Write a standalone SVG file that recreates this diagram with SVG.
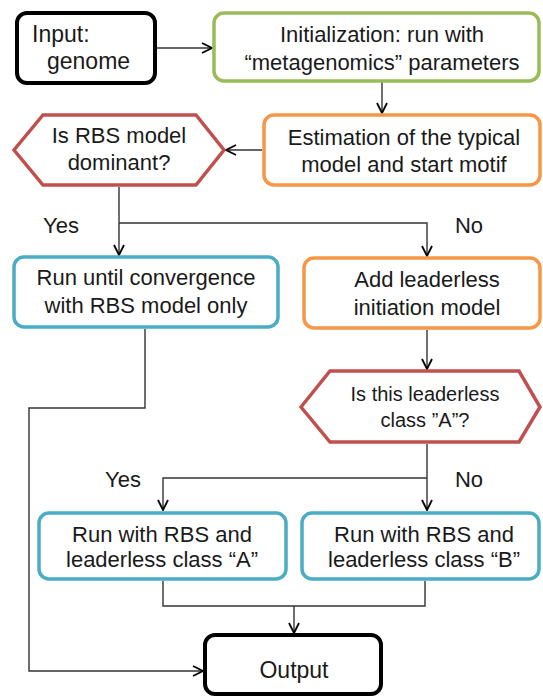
<svg xmlns="http://www.w3.org/2000/svg" width="543" height="698" viewBox="0 0 543 698">
<style>
.box{fill:#fff;stroke-width:3.5}
.blk{stroke:#000;stroke-width:4}
.grn{stroke:#9BBB59}
.org{stroke:#F79646}
.red{stroke:#C0504D}
.blu{stroke:#4BACC6}
text{font-family:"Liberation Sans",Arial,sans-serif;font-size:22px;fill:#1a1a1a}
.c{text-anchor:middle}
.sm{font-size:20px}
.lg{font-size:23px}
.conn{fill:none;stroke:#333;stroke-width:1.4}
</style>
<defs>
<marker id="ah" viewBox="0 0 12 12" refX="11" refY="6" markerWidth="12" markerHeight="12" markerUnits="userSpaceOnUse" orient="auto">
<path d="M1,1 L11,6 L1,11" fill="none" stroke="#000" stroke-width="1.8"/>
</marker>
</defs>
<rect width="543" height="698" fill="#fff"/>
<g id="connectors">
<path class="conn" d="M157,48 H212" marker-end="url(#ah)"/>
<path class="conn" d="M382,82 V113" marker-end="url(#ah)"/>
<path class="conn" d="M262,150 H226" marker-end="url(#ah)"/>
<path class="conn" d="M119,187 V255" marker-end="url(#ah)"/>
<path class="conn" d="M119,223 H427 V256" marker-end="url(#ah)"/>
<path class="conn" d="M145,329 V408 H29 V671 H203" marker-end="url(#ah)"/>
<path class="conn" d="M427,330 V369" marker-end="url(#ah)"/>
<path class="conn" d="M427,444 V510" marker-end="url(#ah)"/>
<path class="conn" d="M427,478 H163 V510" marker-end="url(#ah)"/>
<path class="conn" d="M163,581 V606 H425 V581"/>
<path class="conn" d="M294,606 V633" marker-end="url(#ah)"/>
</g>
<g id="labels">
<text x="61" y="233" class="c">Yes</text>
<text x="469" y="233" class="c">No</text>
<text x="123" y="487" class="c">Yes</text>
<text x="469" y="487" class="c">No</text>
</g>
<g id="input">
<rect class="box blk" x="17" y="13" width="138" height="70" rx="10"/>
<text x="32" y="42" class="lg">Input:</text>
<text x="47" y="69" class="lg">genome</text>
</g>
<g id="init">
<rect class="box grn" x="214" y="13" width="325" height="68" rx="10"/>
<text x="382" y="42" class="c">Initialization: run with</text>
<text x="382" y="70" class="c">“metagenomics” parameters</text>
</g>
<g id="estimation">
<rect class="box org" x="264" y="115" width="276" height="70" rx="10"/>
<text x="404" y="145" class="c">Estimation of the typical</text>
<text x="404" y="172" class="c">model and start motif</text>
</g>
<g id="rbs-dominant">
<polygon class="box red" points="14,150 43,115 196,115 224,150 196,185 43,185"/>
<text x="119" y="143" class="c">Is RBS model</text>
<text x="119" y="170" class="c">dominant?</text>
</g>
<g id="run-until">
<rect class="box blu" x="14" y="257" width="264" height="70" rx="10"/>
<text x="146" y="285" class="c">Run until convergence</text>
<text x="146" y="313" class="c">with RBS model only</text>
</g>
<g id="add-leaderless">
<rect class="box org" x="304" y="258" width="236" height="70" rx="10"/>
<text x="427" y="287" class="c">Add leaderless</text>
<text x="427" y="315" class="c">initiation model</text>
</g>
<g id="class-a-question">
<polygon class="box red" points="301,407 330,371 519,371 540,407 519,442 330,442"/>
<text x="425" y="401" class="c sm">Is this leaderless</text>
<text x="425" y="427" class="c sm">class ”A”?</text>
</g>
<g id="run-a">
<rect class="box blu" x="39" y="513" width="247" height="66" rx="10"/>
<text x="162" y="542" class="c">Run with RBS and</text>
<text x="162" y="567" class="c">leaderless class “A”</text>
</g>
<g id="run-b">
<rect class="box blu" x="302" y="513" width="237" height="66" rx="10"/>
<text x="424" y="542" class="c">Run with RBS and</text>
<text x="424" y="567" class="c">leaderless class “B”</text>
</g>
<g id="output">
<rect class="box blk" x="205" y="635" width="176" height="59" rx="10"/>
<text x="294" y="678" class="c lg">Output</text>
</g>
</svg>
